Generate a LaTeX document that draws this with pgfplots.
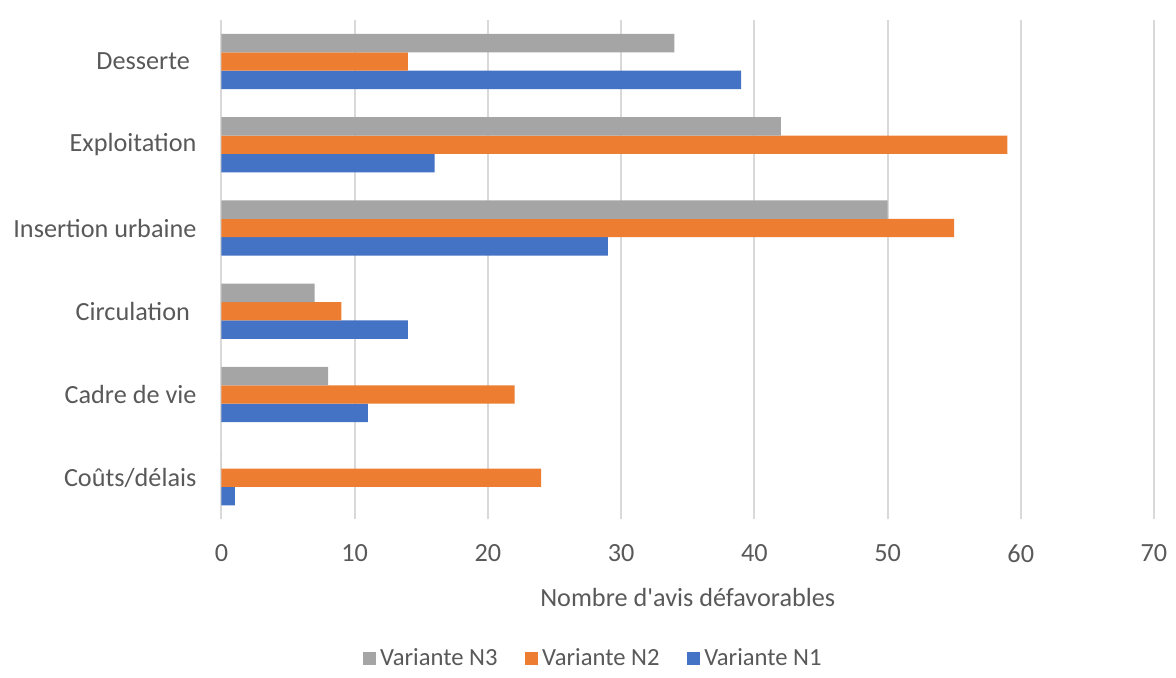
\documentclass[border=0pt]{standalone}
\usepackage{pgfplots}
\pgfplotsset{compat=1.18}
\usepackage{fontspec}
\setmainfont{Carlito}
\definecolor{txt}{HTML}{595959}
\definecolor{gridc}{HTML}{D9D9D9}
\definecolor{cN1}{HTML}{4472C4}
\definecolor{cN2}{HTML}{ED7D31}
\definecolor{cN3}{HTML}{A5A5A5}
\begin{document}
\fontsize{13.2}{15}\selectfont
\begin{tikzpicture}
\begin{axis}[
    name=ax,
    at={(0,0)}, anchor=south west,
    width=469.5pt, height=251.5pt,
    scale only axis,
    xbar=0pt,
    bar width=9.25pt,
    xmin=0, xmax=70,
    ymin=-0.5, ymax=5.5,
    xtick={0,10,...,70},
    ytick={0,1,2,3,4,5},
    yticklabels={Coûts/délais,Cadre de vie,Circulation\kern0.25em,Insertion urbaine,Exploitation,Desserte\kern0.25em},
    xmajorgrids=true,
    grid style={gridc, line width=1pt},
    axis line style={draw=none},
    major tick length=0pt,
    tick label style={font=\fontsize{13.2}{15}\selectfont, text=txt},
    /pgf/number format/assume math mode=true,
    yticklabel style={xshift=-8pt},
    xticklabel style={yshift=-8pt},
    xlabel={Nombre d\textquotesingle avis défavorables},
    xlabel style={font=\fontsize{13.2}{15}\selectfont, text=txt, yshift=-4pt},
    legend style={draw=none, font=\fontsize{12.4}{14}\selectfont, text=txt,
        at={(0.40,-0.28)}, anchor=center, legend columns=3,
        /tikz/every even column/.append style={column sep=12pt}},
    legend image code/.code={\fill[#1] (0pt,-3pt) rectangle (6.5pt,3.5pt);},
    reverse legend,
]
\addplot[fill=cN1, draw=none] coordinates {(1,0) (11,1) (14,2) (29,3) (16,4) (39,5)};
\addlegendentry{Variante N1}
\addplot[fill=cN2, draw=none] coordinates {(24,0) (22,1) (9,2) (55,3) (59,4) (14,5)};
\addlegendentry{Variante N2}
\addplot[fill=cN3, draw=none] coordinates {(0,0) (8,1) (7,2) (50,3) (42,4) (34,5)};
\addlegendentry{Variante N3}
\end{axis}
\path ([shift={(-111.5pt,-74pt)}]ax.south west) rectangle ([shift={(476.5pt,261.5pt)}]ax.south west);
\end{tikzpicture}
\end{document}
